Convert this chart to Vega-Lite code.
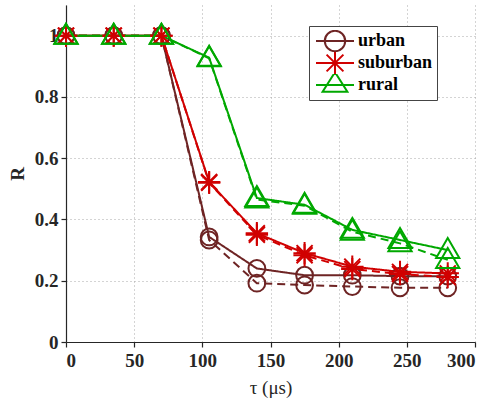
{
  "$schema": "https://vega.github.io/schema/vega-lite/v6.json",
  "width": 409,
  "height": 337,
  "autosize": "none",
  "padding": {"left": 66, "top": 5, "right": 17, "bottom": 57},
  "background": "white",
  "config": {
    "font": "Liberation Serif, Times New Roman, serif",
    "view": {"stroke": null},
    "axis": {
      "labelFont": "Liberation Serif, Times New Roman, serif",
      "labelFontSize": 19,
      "labelFontWeight": "bold",
      "labelColor": "#262626",
      "titleFont": "Liberation Serif, Times New Roman, serif",
      "titleColor": "#262626",
      "domainColor": "#262626",
      "domainWidth": 1.2,
      "tickWidth": 1.2,
      "tickSize": 5,
      "gridDash": [1, 3],
      "gridWidth": 1
    }
  },
  "data": {
    "values": [
      {"series": "urban", "style": "solid", "tau": 0, "R": 1},
      {"series": "urban", "style": "solid", "tau": 35, "R": 1},
      {"series": "urban", "style": "solid", "tau": 70, "R": 1},
      {"series": "urban", "style": "solid", "tau": 105, "R": 0.343},
      {"series": "urban", "style": "solid", "tau": 140, "R": 0.24},
      {"series": "urban", "style": "solid", "tau": 175, "R": 0.218},
      {"series": "urban", "style": "solid", "tau": 210, "R": 0.218},
      {"series": "urban", "style": "solid", "tau": 245, "R": 0.215},
      {"series": "urban", "style": "solid", "tau": 280, "R": 0.215},
      {"series": "urban", "style": "dashed", "tau": 0, "R": 1},
      {"series": "urban", "style": "dashed", "tau": 35, "R": 1},
      {"series": "urban", "style": "dashed", "tau": 70, "R": 1},
      {"series": "urban", "style": "dashed", "tau": 105, "R": 0.333},
      {"series": "urban", "style": "dashed", "tau": 140, "R": 0.192},
      {"series": "urban", "style": "dashed", "tau": 175, "R": 0.186},
      {"series": "urban", "style": "dashed", "tau": 210, "R": 0.181},
      {"series": "urban", "style": "dashed", "tau": 245, "R": 0.177},
      {"series": "urban", "style": "dashed", "tau": 280, "R": 0.177},
      {"series": "suburban", "style": "solid", "tau": 0, "R": 1},
      {"series": "suburban", "style": "solid", "tau": 35, "R": 1},
      {"series": "suburban", "style": "solid", "tau": 70, "R": 1},
      {"series": "suburban", "style": "solid", "tau": 105, "R": 0.522},
      {"series": "suburban", "style": "solid", "tau": 140, "R": 0.355},
      {"series": "suburban", "style": "solid", "tau": 175, "R": 0.29},
      {"series": "suburban", "style": "solid", "tau": 210, "R": 0.246},
      {"series": "suburban", "style": "solid", "tau": 245, "R": 0.229},
      {"series": "suburban", "style": "solid", "tau": 280, "R": 0.224},
      {"series": "suburban", "style": "dashed", "tau": 0, "R": 1},
      {"series": "suburban", "style": "dashed", "tau": 35, "R": 1},
      {"series": "suburban", "style": "dashed", "tau": 70, "R": 1},
      {"series": "suburban", "style": "dashed", "tau": 105, "R": 0.52},
      {"series": "suburban", "style": "dashed", "tau": 140, "R": 0.35},
      {"series": "suburban", "style": "dashed", "tau": 175, "R": 0.283},
      {"series": "suburban", "style": "dashed", "tau": 210, "R": 0.238},
      {"series": "suburban", "style": "dashed", "tau": 245, "R": 0.222},
      {"series": "suburban", "style": "dashed", "tau": 280, "R": 0.212},
      {"series": "rural", "style": "solid", "tau": 0, "R": 1},
      {"series": "rural", "style": "solid", "tau": 35, "R": 1},
      {"series": "rural", "style": "solid", "tau": 70, "R": 1},
      {"series": "rural", "style": "solid", "tau": 105, "R": 0.928},
      {"series": "rural", "style": "solid", "tau": 140, "R": 0.47},
      {"series": "rural", "style": "solid", "tau": 175, "R": 0.448},
      {"series": "rural", "style": "solid", "tau": 210, "R": 0.366},
      {"series": "rural", "style": "solid", "tau": 245, "R": 0.333},
      {"series": "rural", "style": "solid", "tau": 280, "R": 0.3},
      {"series": "rural", "style": "dashed", "tau": 0, "R": 1},
      {"series": "rural", "style": "dashed", "tau": 35, "R": 1},
      {"series": "rural", "style": "dashed", "tau": 70, "R": 1},
      {"series": "rural", "style": "dashed", "tau": 105, "R": 0.926},
      {"series": "rural", "style": "dashed", "tau": 140, "R": 0.465},
      {"series": "rural", "style": "dashed", "tau": 175, "R": 0.445},
      {"series": "rural", "style": "dashed", "tau": 210, "R": 0.36},
      {"series": "rural", "style": "dashed", "tau": 245, "R": 0.322},
      {"series": "rural", "style": "dashed", "tau": 280, "R": 0.268}
    ]
  },
  "resolve": {"scale": {"shape": "independent", "color": "independent"}},
  "layer": [
    {
      "mark": {"type": "line", "strokeWidth": 2},
      "encoding": {
        "x": {
          "field": "tau", "type": "quantitative",
          "scale": {"domain": [0, 300], "nice": false},
          "axis": {
            "title": "τ (μs)",
            "titleFontSize": 19,
            "titleFontWeight": "normal",
            "titlePadding": 8,
            "labelPadding": 4,
            "values": [0, 12.5, 25, 37.5, 50, 62.5, 75, 87.5, 100, 112.5, 125, 137.5, 150, 162.5, 175, 187.5, 200, 212.5, 225, 237.5, 250, 262.5, 275, 287.5, 300],
            "labelExpr": "abs(datum.value/50 - round(datum.value/50)) < 1e-6 ? datum.label : ''",
            "tickColor": {"condition": {"test": "abs(datum.value/50 - round(datum.value/50)) < 1e-6", "value": "#262626"}, "value": "transparent"},
            "grid": true,
            "gridColor": {"condition": {"test": "abs(datum.value/50 - round(datum.value/50)) < 1e-6", "value": "#a8a8a8"}, "value": "#c4c4c4"}
          }
        },
        "y": {
          "field": "R", "type": "quantitative",
          "scale": {"domain": [0, 1.1], "nice": false},
          "axis": {
            "title": "R",
            "titleFontSize": 19,
            "titleFontWeight": "bold",
            "titlePadding": 7,
            "labelPadding": 3,
            "values": [0, 0.05, 0.1, 0.15, 0.2, 0.25, 0.3, 0.35, 0.4, 0.45, 0.5, 0.55, 0.6, 0.65, 0.7, 0.75, 0.8, 0.85, 0.9, 0.95, 1, 1.05, 1.1],
            "labelExpr": "abs(datum.value*5 - round(datum.value*5)) < 1e-6 && datum.value < 1.05 ? format(datum.value, '.1~f') : ''",
            "tickColor": {"condition": {"test": "abs(datum.value*5 - round(datum.value*5)) < 1e-6 && datum.value < 1.05", "value": "#262626"}, "value": "transparent"},
            "grid": true,
            "gridColor": {"condition": {"test": "abs(datum.value*5 - round(datum.value*5)) < 1e-6", "value": "#a8a8a8"}, "value": "#c4c4c4"}
          }
        },
        "color": {
          "field": "series", "type": "nominal",
          "scale": {"domain": ["urban", "suburban", "rural"], "range": ["#6E2424", "#D00000", "#00A800"]},
          "legend": null
        },
        "strokeDash": {
          "field": "style", "type": "nominal",
          "scale": {"domain": ["solid", "dashed"], "range": [[1, 0], [8, 5]]},
          "legend": null
        },
        "detail": {"field": "style"}
      }
    },
    {
      "mark": {"type": "point", "filled": false, "strokeWidth": 2, "size": 64, "opacity": 1},
      "encoding": {
        "x": {"field": "tau", "type": "quantitative"},
        "y": {"field": "R", "type": "quantitative"},
        "color": {
          "field": "series", "type": "nominal",
          "scale": {"domain": ["urban", "suburban", "rural"], "range": ["#6E2424", "#D00000", "#00A800"]},
          "legend": null
        },
        "shape": {
          "field": "series", "type": "nominal",
          "scale": {"domain": ["urban", "suburban", "rural"], "range": [
            "M2.1,0A2.1,2.1 0 1,1 -2.1,0A2.1,2.1 0 1,1 2.1,0Z",
            "M-2.8,0H2.8M0,-2.8V2.8M-2,-2L2,2M-2,2L2,-2",
            "M0,-3L2.9,2H-2.9Z"
          ]},
          "legend": null
        }
      }
    },
    {
      "mark": {"type": "point", "filled": false, "strokeWidth": 2, "size": 64, "opacity": 0},
      "encoding": {
        "x": {"field": "tau", "type": "quantitative"},
        "y": {"field": "R", "type": "quantitative"},
        "color": {
          "field": "series", "type": "nominal",
          "scale": {"domain": ["urban", "suburban", "rural"], "range": ["#6E2424", "#D00000", "#00A800"]},
          "legend": {
            "title": null,
            "orient": "none",
            "legendX": 243,
            "legendY": 21,
            "padding": 4,
            "clipHeight": 22,
            "fillColor": "white",
            "strokeColor": "#444444",
            "symbolOpacity": 1,
            "symbolStrokeWidth": 2,
            "symbolSize": 64,
            "symbolOffset": 13,
            "labelOffset": 14,
            "labelFont": "Liberation Serif, Times New Roman, serif",
            "labelFontSize": 18,
            "labelFontWeight": "bold",
            "labelColor": "#000000",
            "rowPadding": 0
          }
        },
        "shape": {
          "field": "series", "type": "nominal",
          "scale": {"domain": ["urban", "suburban", "rural"], "range": [
            "M-4.75,0H4.75M2.55,0A2.55,2.55 0 1,1 -2.55,0A2.55,2.55 0 1,1 2.55,0",
            "M-4.75,0H4.75M0,-2.9V2.9M-2.1,-2.1L2.1,2.1M-2.1,2.1L2.1,-2.1",
            "M-4.75,0H4.75M0,-3.2L3.1,1.7H-3.1Z"
          ]},
          "legend": {
            "title": null,
            "orient": "none",
            "legendX": 243,
            "legendY": 21,
            "padding": 4,
            "clipHeight": 22,
            "fillColor": "white",
            "strokeColor": "#444444",
            "symbolOpacity": 1,
            "symbolStrokeWidth": 2,
            "symbolSize": 64,
            "symbolOffset": 13,
            "labelOffset": 14,
            "labelFont": "Liberation Serif, Times New Roman, serif",
            "labelFontSize": 18,
            "labelFontWeight": "bold",
            "labelColor": "#000000",
            "rowPadding": 0
          }
        }
      }
    }
  ]
}
